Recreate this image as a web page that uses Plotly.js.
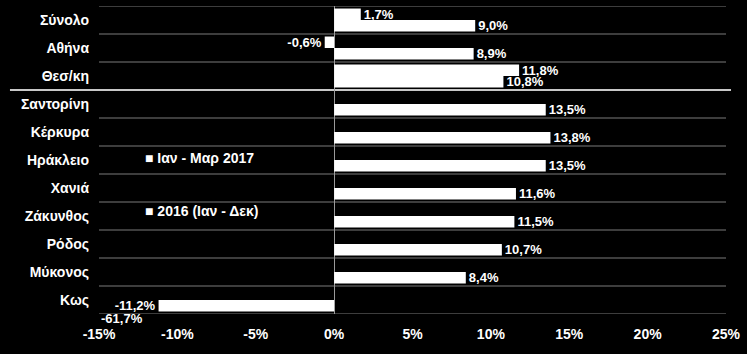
<!DOCTYPE html>
<html>
<head>
<meta charset="utf-8">
<script src="https://cdn.plot.ly/plotly-3.0.1.min.js"></script>
<style>html,body{margin:0;padding:0;background:#000;}#chart{width:747px;height:354px;}</style>
</head>
<body>
<div id="chart"></div>
<script>
const categories = ['Σύνολο','Αθήνα','Θεσ/κη','Σαντορίνη','Κέρκυρα','Ηράκλειο','Χανιά','Ζάκυνθος','Ρόδος','Μύκονος','Κως'];
const seriesNames = ['Ιαν - Μαρ 2017', '2016 (Ιαν - Δεκ)'];
const q1_2017 = [1.7, -0.6, 11.8, null, null, null, null, null, null, null, -61.7];
const y2016 = [9.0, 8.9, 10.8, 13.5, 13.8, 13.5, 11.6, 11.5, 10.7, 8.4, -11.2];
const xTickVals = [-15, -10, -5, 0, 5, 10, 15, 20, 25];
const xTickText = ['-15%', '-10%', '-5%', '0%', '5%', '10%', '15%', '20%', '25%'];
const xRange = [-15, 25];

const FONT = 'Liberation Sans, Arial, sans-serif';
const fmt = v => (v === null ? '' : v.toFixed(1).replace('.', ',') + '%');
const inRange = v => (v !== null && v >= xRange[0] && v <= xRange[1]) ? v : null;

function barTrace(vals, name) {
  const xs = vals.map(inRange);
  return {
    type: 'bar', orientation: 'h', name: name,
    y: categories, x: xs,
    text: xs.map(fmt), textposition: 'outside', cliponaxis: false, constraintext: 'none',
    textfont: {family: FONT, size: 13, color: '#ffffff', weight: 'bold'},
    marker: {color: '#ffffff'},
    hoverinfo: 'skip', showlegend: false
  };
}

const data = [barTrace(q1_2017, seriesNames[0]), barTrace(y2016, seriesNames[1])];

const shapes = [];
for (let i = 0; i <= categories.length; i++) {
  const isSep = (i === 3);
  shapes.push({
    type: 'line', xref: isSep ? 'paper' : 'x', yref: 'y',
    x0: isSep ? -0.142 : xRange[0], x1: isSep ? 1.008 : xRange[1],
    y0: i - 0.5, y1: i - 0.5,
    line: {color: isSep ? '#c8c8c8' : '#7a7a7a', width: isSep ? 2 : 1},
    layer: 'below'
  });
}

const annotations = [];
// out-of-range values labelled at axis edge
q1_2017.forEach((v, i) => {
  if (v !== null && inRange(v) === null) {
    annotations.push({
      x: xRange[0], y: i, xref: 'x', yref: 'y', yshift: -18.5, text: fmt(v), showarrow: false,
      xanchor: 'left', yanchor: 'middle',
      font: {family: FONT, size: 13, color: '#ffffff', weight: 'bold'}
    });
  }
});
// legend entries
const legendY = [4.93, 6.82];
seriesNames.forEach((n, k) => {
  annotations.push({
    x: -12.2, y: legendY[k], xref: 'x', yref: 'y', text: '■ ' + n, showarrow: false,
    xanchor: 'left', yanchor: 'middle',
    font: {family: FONT, size: 14, color: '#ffffff', weight: 'bold'}
  });
});

const layout = {
  width: 747, height: 354,
  paper_bgcolor: '#000000', plot_bgcolor: '#000000',
  margin: {l: 99, r: 21, t: 6, b: 40},
  barmode: 'group', bargap: 0.18, bargroupgap: 0,
  showlegend: false,
  font: {family: FONT, color: '#ffffff'},
  xaxis: {
    range: xRange, tickvals: xTickVals, ticktext: xTickText,
    showgrid: false, zeroline: true, zerolinecolor: '#9a9a9a', zerolinewidth: 1,
    showline: false, ticks: '', ticklabelstandoff: 10, automargin: false,
    tickfont: {family: FONT, size: 14, color: '#ffffff', weight: 'bold'},
    fixedrange: true
  },
  yaxis: {
    type: 'category', range: [categories.length - 0.5, -0.5], autorange: false, automargin: false,
    showgrid: false, zeroline: false, showline: false, ticks: '', ticklabelstandoff: 9,
    tickfont: {family: FONT, size: 14, color: '#ffffff', weight: 'bold'},
    fixedrange: true
  },
  shapes: shapes,
  annotations: annotations
};

Plotly.newPlot('chart', data, layout, {displayModeBar: false, staticPlot: true});
</script>
</body>
</html>
